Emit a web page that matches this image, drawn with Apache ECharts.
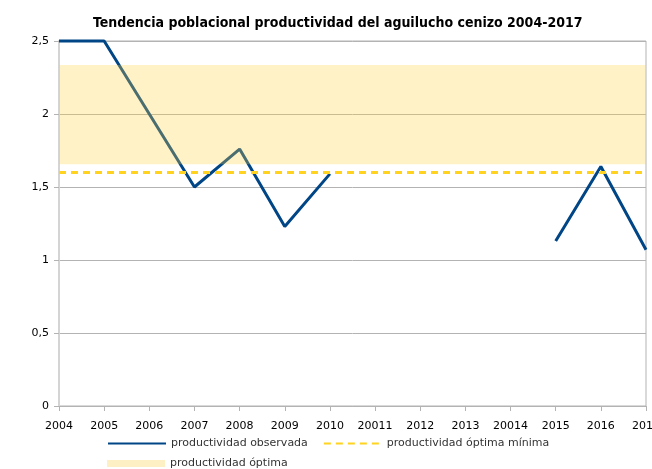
<!DOCTYPE html>
<html>
<head>
<meta charset="utf-8">
<script src="https://cdn.jsdelivr.net/npm/echarts@6/dist/echarts.min.js"></script>
<style>
  html, body { margin: 0; padding: 0; background: #fff; }
  #chart { width: 652px; height: 469px; }
</style>
</head>
<body>
<div id="chart"></div>
<script>
const years = ['2004', '2005', '2006', '2007', '2008', '2009', '2010', '20011', '2012', '2013', '20014', '2015', '2016', '2017'];
const observada = [2.5, 2.5, 2.0, 1.5, 1.76, 1.23, 1.59, null, null, null, null, 1.13, 1.64, 1.07];
const optimaMinima = [1.6, 1.6, 1.6, 1.6, 1.6, 1.6, 1.6, 1.6, 1.6, 1.6, 1.6, 1.6, 1.6, 1.6];
const optimaBand = [1.655, 2.336];
const yTicks = [0, 0.5, 1, 1.5, 2, 2.5];

const chart = echarts.init(document.getElementById('chart'));
const labelFont = 'DejaVu Sans';
const hideSymbol = { opacity: 0 };

chart.setOption({
  animation: false,
  title: {
    text: 'Tendencia poblacional productividad del aguilucho cenizo 2004-2017',
    left: 88,
    top: 11,
    textStyle: { fontFamily: "'DejaVu Sans Condensed', 'DejaVu Sans'", fontWeight: 'bold', fontSize: 14, color: '#000' },
  },
  legend: [
    {
      left: 102,
      top: 433,
      itemWidth: 58,
      itemHeight: 8,
      itemGap: 15,
      textStyle: { fontFamily: labelFont, fontSize: 11, color: '#333' },
      data: [
        { name: 'productividad observada', itemStyle: hideSymbol },
        { name: 'productividad óptima mínima', itemStyle: hideSymbol },
      ],
    },
    {
      left: 102,
      top: 453,
      itemWidth: 58,
      itemHeight: 7,
      textStyle: { fontFamily: labelFont, fontSize: 11, color: '#333' },
      data: [{ name: 'productividad óptima', icon: 'rect' }],
    },
  ],
  grid: {
    left: 59, right: 6, top: 41, bottom: 63,
    outerBoundsMode: 'none',
    show: true, borderColor: '#b3b3b3', borderWidth: 1,
  },
  xAxis: {
    type: 'category',
    data: years,
    boundaryGap: false,
    axisLine: { lineStyle: { color: '#b3b3b3' } },
    axisTick: { show: true, length: 5, lineStyle: { color: '#b3b3b3' } },
    axisLabel: { fontFamily: labelFont, fontSize: 11, color: '#000', margin: 15, interval: 0, hideOverlap: false },
    splitLine: { show: false },
  },
  yAxis: {
    type: 'value',
    min: yTicks[0],
    max: yTicks[yTicks.length - 1],
    interval: 0.5,
    axisLine: { show: true, lineStyle: { color: '#d4d4d4', width: 2 } },
    axisTick: { show: true, length: 5, lineStyle: { color: '#b3b3b3' } },
    axisLabel: {
      fontFamily: labelFont, fontSize: 11, color: '#000', margin: 10,
      formatter: (v) => String(v).replace('.', ','),
    },
    splitLine: { lineStyle: { color: '#b3b3b3' } },
  },
  series: [
    {
      name: 'productividad observada',
      type: 'line',
      data: observada,
      symbol: 'none',
      connectNulls: false,
      clip: false,
      z: 2,
      lineStyle: { color: '#004586', width: 3 },
      itemStyle: { color: '#004586' },
    },
    {
      name: 'productividad óptima mínima',
      type: 'line',
      data: optimaMinima,
      symbol: 'none',
      z: 2,
      lineStyle: { color: '#ffd320', width: 3, type: [7, 5] },
      itemStyle: { color: '#ffd320' },
    },
    {
      name: 'productividad óptima',
      type: 'line',
      data: [],
      symbol: 'none',
      z: 5,
      itemStyle: { color: '#fdf0c4' },
      lineStyle: { width: 0 },
      markArea: {
        silent: true,
        z: 5,
        itemStyle: { color: 'rgba(255, 210, 60, 0.29)' },
        data: [[{ yAxis: optimaBand[0] }, { yAxis: optimaBand[1] }]],
      },
    },
  ],
});
</script>
</body>
</html>
